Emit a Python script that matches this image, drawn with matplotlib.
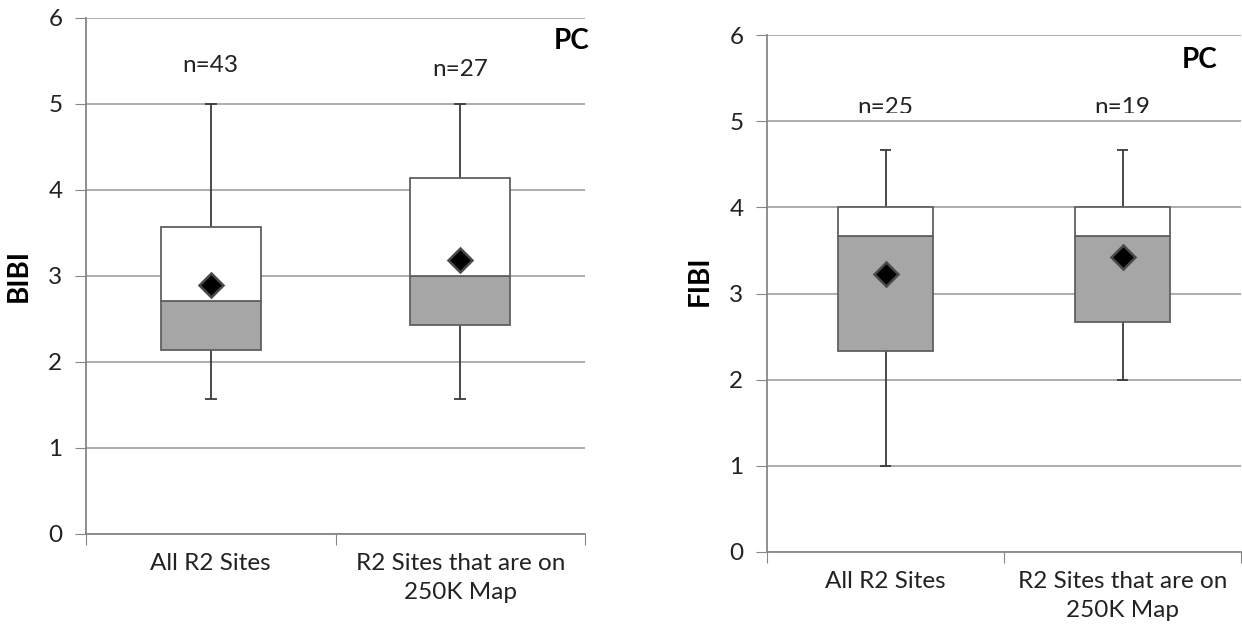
import matplotlib.pyplot as plt
from matplotlib.transforms import Bbox, TransformedBbox

plt.rcParams['font.family'] = ['Lato', 'DejaVu Sans']

categories = ["All R2 Sites", "R2 Sites that are on\n250K Map"]

# BIBI box statistics
bibi_low = [1.57, 1.57]
bibi_q1 = [2.14, 2.43]
bibi_med = [2.71, 3.00]
bibi_q3 = [3.57, 4.14]
bibi_high = [5.00, 5.00]
bibi_mean = [2.89, 3.19]
bibi_n = ["n=43", "n=27"]

# FIBI box statistics
fibi_low = [1.00, 2.00]
fibi_q1 = [2.33, 2.67]
fibi_med = [3.67, 3.67]
fibi_q3 = [4.00, 4.00]
fibi_high = [4.67, 4.67]
fibi_mean = [3.23, 3.42]
fibi_n = ["n=25", "n=19"]

GRID = "#a6a6a6"
SPINE = "#868686"
EDGE = "#606060"
FILL = "#a6a6a6"
TICK_FS = 17.5
BOLD_FS = 20


def draw_panel(ax, low, q1, med, q3, high, mean, ylabel, label_xy):
    x = list(range(len(categories)))
    # lower half of box (q1 -> median) is shaded, upper half white
    ax.bar(x, [m - a for a, m in zip(q1, med)], bottom=q1, width=0.4,
           color=FILL, edgecolor=EDGE, linewidth=1.3, zorder=3)
    ax.bar(x, [b - m for m, b in zip(med, q3)], bottom=med, width=0.4,
           color="white", edgecolor=EDGE, linewidth=1.3, zorder=3)
    ax.vlines(x, low, q1, color="#3a3a3a", linewidth=1.3, zorder=2)
    ax.vlines(x, q3, high, color="#3a3a3a", linewidth=1.3, zorder=2)
    ax.hlines(low, [i - 0.025 for i in x], [i + 0.025 for i in x],
              color="#3a3a3a", linewidth=1.3, zorder=2)
    ax.hlines(high, [i - 0.025 for i in x], [i + 0.025 for i in x],
              color="#3a3a3a", linewidth=1.3, zorder=2)
    ax.plot(x, mean, linestyle="none", marker="D", markersize=12.5,
            markerfacecolor="black", markeredgecolor="#4a4a4a",
            markeredgewidth=1.8, zorder=4)

    ax.set_xlim(-0.5, 1.5)
    ax.set_ylim(0, 6)
    ax.set_yticks(range(7))
    ax.set_xticks([-0.5, 0.5, 1.5])
    ax.set_xticklabels([])
    ax.set_xticks(x, minor=True)
    ax.set_xticklabels(categories, minor=True, fontsize=TICK_FS,
                       color="#222222", linespacing=1.45)
    ax.tick_params(axis="x", which="minor", length=0, pad=14)
    ax.tick_params(axis="x", which="major", length=8, color=SPINE,
                   direction="out")
    ax.tick_params(axis="y", length=8, color=SPINE, pad=9,
                   labelsize=TICK_FS, labelcolor="#222222")
    ax.grid(axis="y", color=GRID, linewidth=1.3, zorder=0)
    ax.set_axisbelow(True)
    for side in ("top", "right"):
        ax.spines[side].set_visible(False)
    for side in ("left", "bottom"):
        ax.spines[side].set_color(SPINE)
        ax.spines[side].set_linewidth(1.3)
    ax.set_ylabel(ylabel, fontsize=BOLD_FS, fontweight="bold")
    ax.yaxis.set_label_coords(*label_xy)


fig = plt.figure(figsize=(12.42, 6.33), dpi=100)
ax1 = fig.add_axes([86 / 1242, 1 - 534 / 633, 499 / 1242, 516 / 633])
ax2 = fig.add_axes([767 / 1242, 1 - 552 / 633, 474 / 1242, 517 / 633])

draw_panel(ax1, bibi_low, bibi_q1, bibi_med, bibi_q3, bibi_high, bibi_mean,
           "BIBI", (-0.108, 0.5))
draw_panel(ax2, fibi_low, fibi_q1, fibi_med, fibi_q3, fibi_high, fibi_mean,
           "FIBI", (-0.114, 0.525))

# sample sizes
for i, (lbl, y) in enumerate(zip(bibi_n, [5.37, 5.33])):
    ax1.text(i, y, lbl, ha="center", va="baseline", fontsize=TICK_FS,
             color="#222222")
# right panel labels are cut off just above the 5 gridline
clip = TransformedBbox(Bbox([[-0.5, 5.09], [1.5, 6]]), ax2.transData)
for i, lbl in enumerate(fibi_n):
    t = ax2.text(i, 5.08, lbl, ha="center", va="baseline", fontsize=TICK_FS,
                 color="#222222")
    t.set_clip_box(clip)
    t.set_clip_on(True)

ax1.text(1.52, 5.73, "PC", ha="right", va="center", fontsize=BOLD_FS,
         fontweight="bold", clip_on=False)
ax2.text(1.40, 5.71, "PC", ha="right", va="center", fontsize=BOLD_FS,
         fontweight="bold")

fig.savefig("out.png", dpi=100)
